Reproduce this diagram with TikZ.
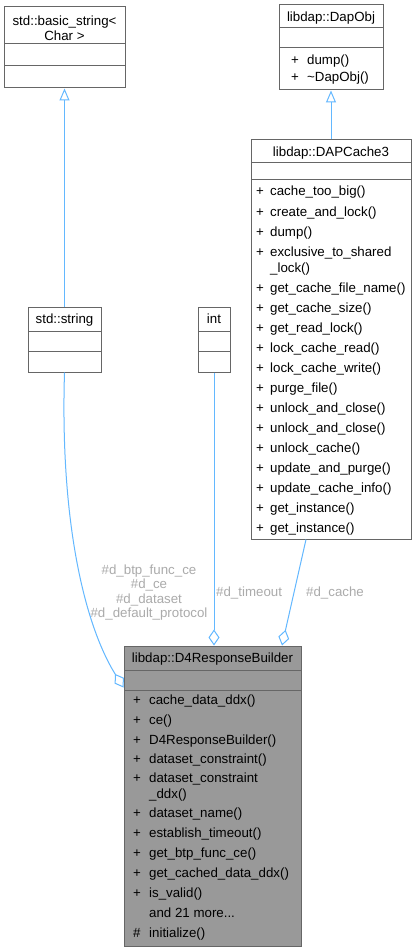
\documentclass[tikz,border=0pt]{standalone}
\usepackage{fontspec}
\setmainfont{Liberation Sans}
\usetikzlibrary{arrows.meta}
\definecolor{edgeblue}{HTML}{63B8FF}
\definecolor{boxline}{HTML}{666666}
\definecolor{curfill}{HTML}{999999}
\definecolor{lblgray}{HTML}{ABABAB}
\tikzset{
 cls/.style={draw=boxline, line width=1pt, fill=white, inner sep=0pt, rectangle},
 cur/.style={cls, fill=curfill},
 sepl/.style={draw=boxline, line width=1pt},
 txt/.style={inner sep=0pt, anchor=base west, font=\fontsize{13.3}{16}\selectfont},
 ttl/.style={inner sep=0pt, anchor=base, font=\fontsize{13.3}{16}\selectfont},
 lbl/.style={inner sep=0pt, text=lblgray, font=\fontsize{13.3}{14.5}\selectfont, align=center},
 inh/.style={draw=edgeblue, line width=1pt, -{Triangle[open, length=12pt, width=10pt]}},
 agg/.style={draw=edgeblue, line width=1pt, -{Diamond[open, length=16pt, width=11pt]}},
}
\begin{document}
\begin{tikzpicture}[x=1pt,y=-1pt]
\useasboundingbox (0,0) rectangle (417,952);
\fill[white] (0,0) rectangle (417,952);

% std::basic_string<Char>
\node[cls, minimum width=121pt, minimum height=81pt] (bs) at (64.5,47.5) {};
\draw[sepl] (4,44) -- (125,44);
\draw[sepl] (4,66) -- (125,66);
\node[ttl] (bst1) at (64.5,25.5) {std::basic\_string<};
\node[ttl] (bst2) at (64.5,40.5) {Char >};

% libdap::DapObj
\node[cls, minimum width=104pt, minimum height=85pt] (dapobj) at (331,47.5) {};
\draw[sepl] (279,28) -- (383,28);
\draw[sepl] (279,48) -- (383,48);
\node[ttl] (dot) at (331,21.5) {libdap::DapObj};
\node[txt] (dop1) at (291,65) {+};
\node[txt] (don1) at (307,65) {dump()};
\node[txt] (dop2) at (291,82) {+};
\node[txt] (don2) at (307,82) {\textasciitilde DapObj()};

% libdap::DAPCache3
\node[cls, minimum width=160pt, minimum height=399pt] (dc3) at (331,339.5) {};
\draw[sepl] (251,163) -- (411,163);
\draw[sepl] (251,180) -- (411,180);
\node[ttl] (dct) at (331,156.5) {libdap::DAPCache3};
\foreach \i/\y/\t in {1/196/cache\_too\_big(), 2/216/create\_and\_lock(), 3/236/dump(),
  4/256/exclusive\_to\_shared, 6/292/get\_cache\_file\_name(), 7/312/get\_cache\_size(),
  8/332/get\_read\_lock(), 9/352/lock\_cache\_read(), 10/372/lock\_cache\_write(),
  11/392/purge\_file(), 12/412/unlock\_and\_close(), 13/432/unlock\_and\_close(),
  14/452/unlock\_cache(), 15/472/update\_and\_purge(), 16/492/update\_cache\_info(),
  17/512/get\_instance(), 18/532/get\_instance()}{
  \node[txt] (dcp\i) at (256,\y) {+};
  \node[txt] (dcn\i) at (270,\y) {\t};
}
\node[txt] (dcn5) at (270,272) {\_lock()};

% std::string
\node[cls, minimum width=73pt, minimum height=65pt] (str) at (64.5,339.5) {};
\draw[sepl] (28,331) -- (101,331);
\draw[sepl] (28,351) -- (101,351);
\node[ttl] (strt) at (64.5,323.5) {std::string};

% int
\node[cls, minimum width=32pt, minimum height=65pt] (int) at (214,339.5) {};
\draw[sepl] (198,331) -- (230,331);
\draw[sepl] (198,351) -- (230,351);
\node[ttl] (intt) at (214,323.5) {int};

% libdap::D4ResponseBuilder
\node[cur, minimum width=177pt, minimum height=300pt] (d4) at (212.5,796) {};
\draw[sepl] (124,670) -- (301,670);
\draw[sepl] (124,690) -- (301,690);
\node[ttl] (d4t) at (212.5,662.5) {libdap::D4ResponseBuilder};
\foreach \i/\y/\t in {1/704/cache\_data\_ddx(), 2/724/ce(), 3/744/D4ResponseBuilder(),
  4/763/dataset\_constraint(), 5/782/dataset\_constraint, 7/817/dataset\_name(),
  8/837/establish\_timeout(), 9/857/get\_btp\_func\_ce(), 10/877/get\_cached\_data\_ddx(),
  11/897/is\_valid()}{
  \node[txt] (d4p\i) at (133,\y) {+};
  \node[txt] (d4n\i) at (149,\y) {\t};
}
\node[txt] (d4n6) at (149,798) {\_ddx()};
\node[txt] (d4n12) at (149,917) {and 21 more...};
\node[txt] (d4p13) at (133,937) {\#};
\node[txt] (d4n13) at (149,937) {initialize()};

% connectors
\draw[inh] (str.north) -- (bs.south);
\draw[inh] (dc3.north) -- (dapobj.south);
\draw[agg] (str.south) .. controls (60,520) and (84,624) .. ([yshift=-42pt]d4.north west);
\draw[agg] (int.south) -- (int.south |- d4.north);
\draw[agg] ([xshift=-25pt]dc3.south) -- ([xshift=69.5pt]d4.north);

% labels
\node[lbl] (la) at (149,592.5) {\#d\_btp\_func\_ce\\\#d\_ce\\\#d\_dataset\\\#d\_default\_protocol};
\node[lbl, anchor=base west] (lb) at (216,596) {\#d\_timeout};
\node[lbl, anchor=base west] (lc) at (306,596) {\#d\_cache};
\end{tikzpicture}
\end{document}
